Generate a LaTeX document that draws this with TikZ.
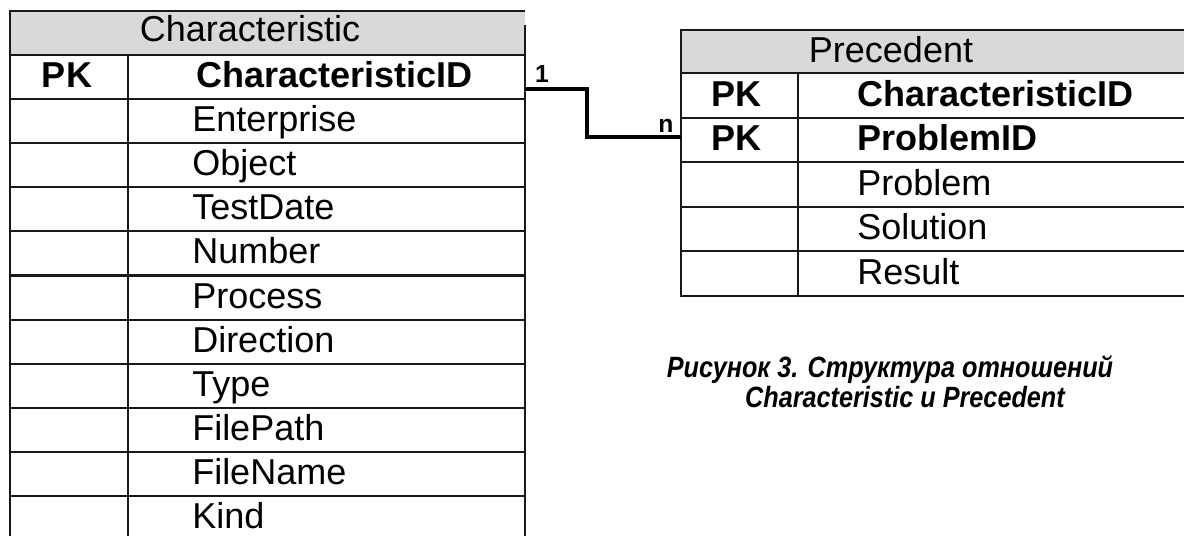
\documentclass[tikz,border=0pt]{standalone}
\usepackage{fontspec}
\setmainfont{Liberation Sans}
\definecolor{hdrgray}{RGB}{217,217,217}
\tikzset{
  tline/.style={line width=1.6pt, draw=black!90},
  conn/.style={line width=2.3pt, draw=black},
  hdrtxt/.style={anchor=base, inner sep=0pt, font=\fontsize{27}{30}\selectfont},
  fld/.style={anchor=base west, inner sep=0pt, font=\fontsize{27}{30}\selectfont},
  keyfld/.style={anchor=base west, inner sep=0pt, font=\fontsize{27}{30}\selectfont\bfseries},
  pk/.style={anchor=base, inner sep=0pt, font=\fontsize{27}{30}\selectfont\bfseries},
  card/.style={anchor=base, inner sep=0pt, font=\fontsize{18.5}{20}\selectfont\bfseries},
  capt/.style={anchor=base, inner sep=0pt, align=center, xscale=0.86, font=\fontsize{22}{23}\selectfont\bfseries\itshape}
}
\begin{document}
\begin{tikzpicture}[x=0.75pt,y=-0.75pt]
\useasboundingbox (0,0) rectangle (1184,535);
\clip (0,0) rectangle (1184,535);

% ---------- Characteristic table ----------
\fill[hdrgray] (10,11) rectangle (525,55);
\draw[tline] (10,545) -- (10,11) -- (525,11);
\draw[tline] (525,25) -- (525,545);
\draw[tline] (128,55) -- (128,545);
\foreach \k in {0,...,10} {
  \draw[tline] (10,{55+44.1*\k}) -- (525,{55+44.1*\k});
}
\node[hdrtxt] (chead) at (250,42) {Characteristic};
\node[pk] (cpk) at (67,87.5) {PK};
\node[keyfld] (cid) at (196,87.5) {CharacteristicID};
\foreach \t [count=\i] in {Enterprise,Object,TestDate,Number,Process,Direction,Type,FilePath,FileName,Kind} {
  \node[fld] (cf\i) at (192,{87.5+44.1*\i}) {\t};
}

% ---------- Precedent table ----------
\fill[hdrgray] (681,30) rectangle (1190,73);
\draw[tline] (1190,30) -- (681,30) -- (681,296) -- (1190,296);
\draw[tline] (798,73) -- (798,296);
\foreach \k in {0,...,4} {
  \draw[tline] (681,{73+44.6*\k}) -- (1190,{73+44.6*\k});
}
\node[hdrtxt] (phead) at (891,63) {Precedent};
\node[pk] (ppk1) at (736,106) {PK};
\node[keyfld] (pcid) at (857,106) {CharacteristicID};
\node[pk] (ppk2) at (736,150.6) {PK};
\node[keyfld] (ppid) at (857,150.6) {ProblemID};
\node[fld] (pprob) at (857,195.2) {Problem};
\node[fld] (psol) at (857,239.8) {Solution};
\node[fld] (pres) at (857,284.4) {Result};

% ---------- relationship ----------
\coordinate (c1) at (525,89);
\coordinate (p1) at (681,137);
\draw[conn] (c1) -- ++(62,0) |- (p1);
\node[card] (one) at (542,83) {1};
\node[card] (many) at (666,132) {n};

% ---------- caption ----------
\node[capt] (cap1) at (890,377) {Рисунок 3. Структура отношений};
\node[capt] (cap2) at (905,407) {Characteristic и Precedent};
\end{tikzpicture}
\end{document}
